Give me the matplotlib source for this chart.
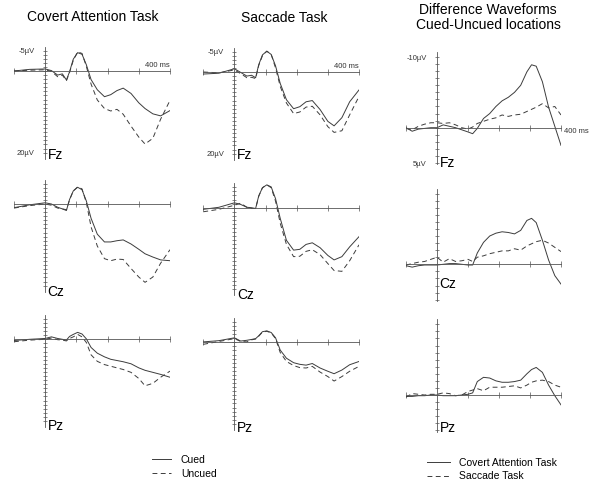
import matplotlib
matplotlib.use('Agg')
import matplotlib.pyplot as plt

plt.rcParams['font.family'] = ['Liberation Sans', 'DejaVu Sans']

# time points (ms)
t_erp = [-100, -50, 0, 20, 40, 55, 68, 78, 90, 104, 118, 132, 147, 167, 190,
         210, 230, 250, 275, 300, 320, 345, 370, 400]
t_diff = [-100, -80, -60, -40, -20, 0, 20, 40, 60, 80, 100, 115, 130, 150, 170,
          190, 210, 230, 250, 270, 290, 305, 320, 340, 360, 380, 400]

# grand average ERPs in uV (negative plotted up)
covert_fz_cued = [0, -0.4, -0.5, -0.1, 1.0, 0.7, 2.2, 0.2, -2.9, -4.5, -4.1, -1.5, 2.1, 4.6, 6.3,
                  5.8, 4.8, 4.2, 5.5, 7.8, 9.2, 10.5, 11.0, 9.7]
covert_fz_uncued = [0, -0.2, -0.3, 0.1, 1.4, 1.0, 2.4, 0.4, -2.6, -4.7, -4.3, -1.1, 3.2, 7.1, 9.2,
                    9.8, 9.4, 10.6, 13.5, 16.2, 17.9, 16.5, 11.8, 7.2]
covert_cz_cued = [0.9, 0.2, -0.3, 0.0, 0.8, 1.2, 1.6, -1.1, -3.2, -4.1, -3.5, -0.7, 3.5, 7.4, 9.3,
                  9.3, 9.0, 8.8, 9.8, 11.1, 12.2, 13.0, 13.7, 13.9]
covert_cz_uncued = [1.0, 0.4, 0.0, 0.3, 1.0, 1.2, 1.4, -1.0, -3.2, -4.2, -3.7, -0.3, 5.6, 10.3, 13.4,
                    13.9, 13.5, 13.6, 15.8, 17.9, 19.2, 17.9, 14.5, 11.2]
covert_pz_cued = [0.3, 0.0, -0.2, -0.6, -0.2, 0.0, 0.2, -0.7, -1.2, -1.7, -1.3, -0.1, 2.0, 3.4, 4.3,
                  4.9, 5.2, 5.5, 6.0, 7.0, 7.6, 8.1, 8.6, 9.3]
covert_pz_uncued = [0.6, 0.2, 0.0, -0.3, 0.1, 0.2, 0.4, -0.2, -0.6, -1.2, -0.6, 0.8, 3.8, 5.4, 6.2,
                    6.6, 7.0, 7.4, 8.1, 9.6, 11.4, 10.8, 9.3, 7.8]

sacc_fz_cued = [0.5, 0.3, -0.8, 0.1, 1.0, 0.8, 1.4, -1.8, -4.2, -5.1, -4.3, -1.5, 2.8, 6.8, 9.0,
                8.5, 7.3, 7.0, 9.2, 12.1, 13.2, 11.2, 7.3, 4.4]
sacc_fz_uncued = [0.0, 0.2, -0.5, 0.4, 1.4, 1.3, 1.6, -1.6, -4.0, -5.1, -4.3, -1.0, 3.5, 7.6, 10.2,
                  9.8, 8.6, 8.4, 10.5, 13.4, 14.8, 14.4, 10.5, 6.0]
sacc_cz_cued = [0.4, -0.1, -1.2, -0.8, -0.1, 0.0, 0.2, -2.9, -4.9, -5.6, -5.1, -2.2, 2.6, 8.0, 10.4,
                10.2, 9.0, 8.6, 9.8, 11.7, 12.8, 12.0, 9.6, 7.1]
sacc_cz_uncued = [1.0, 0.4, -0.6, -1.1, -0.1, 0.2, 0.2, -2.8, -4.9, -5.6, -4.9, -1.6, 3.8, 9.0, 12.0,
                  11.9, 10.7, 10.3, 11.5, 13.7, 15.4, 15.6, 13.0, 9.1]
sacc_pz_cued = [-0.1, -0.4, -1.1, -0.3, -0.5, -0.7, -0.9, -1.6, -2.6, -2.8, -2.4, -1.1, 1.9, 3.9, 5.0,
                5.4, 5.6, 5.2, 6.3, 7.1, 7.7, 6.8, 5.5, 4.7]
sacc_pz_uncued = [0.5, -0.2, -0.9, -0.2, -0.1, -0.6, -0.8, -1.5, -2.5, -2.7, -2.3, -0.9, 2.5, 4.7, 5.7,
                  6.2, 6.3, 5.9, 7.3, 8.4, 9.5, 8.4, 7.1, 5.9]

# difference waveforms cued - uncued (uV)
diff_fz_covert = [0, 0.5, 0.2, 0.1, 0, 0, -0.4, -0.2, 0.0, 0.3, 0.6, 0.85, 0.1, -1.3, -2.0,
                  -3.0, -3.8, -4.3, -5.0, -6.0, -7.9, -8.9, -8.7, -6.5, -2.9, -0.2, 2.5]
diff_fz_saccade = [0.1, 0.3, -0.2, -0.5, -0.7, -0.7, -0.6, -0.7, -0.4, 0.0, 0.2, -0.1, -0.6, -0.9, -1.2,
                   -1.4, -1.8, -1.6, -1.8, -1.9, -2.3, -2.6, -2.9, -3.4, -2.8, -3.0, -1.8]
diff_cz_covert = [0.2, 0.4, 0.2, 0.1, 0.1, 0.1, 0.0, -0.1, -0.1, 0.0, 0.1, 0.1, -1.6, -3.1, -4.0,
                  -4.4, -4.6, -4.5, -4.3, -4.8, -6.2, -6.5, -5.9, -3.4, -0.6, 1.6, 2.8]
diff_cz_saccade = [0.1, -0.1, -0.3, -0.4, -0.7, -1.0, -0.3, -0.8, -0.4, -0.5, -0.7, -0.4, -1.0, -1.2, -1.5,
                   -1.7, -1.9, -1.9, -2.2, -2.0, -2.6, -2.9, -3.2, -3.4, -3.0, -2.4, -1.8]
diff_pz_covert = [0.2, 0.2, 0.1, 0.1, 0.0, 0.0, 0.1, 0.1, 0.1, 0.0, -0.1, -0.3, -1.9, -2.5, -2.4,
                  -2.0, -1.8, -1.8, -1.9, -2.1, -3.0, -3.6, -3.9, -3.2, -1.4, 0.1, 1.4]
diff_pz_saccade = [0.3, -0.2, -0.1, 0.0, -0.1, -0.1, -0.3, -0.2, 0.1, 0.0, -0.5, -0.7, -0.9, -0.6, -1.1,
                   -1.1, -1.1, -1.2, -1.3, -1.0, -1.4, -1.8, -2.0, -2.1, -1.9, -1.4, -1.1]

electrodes = ['Fz', 'Cz', 'Pz']
erp_ticklabels = ['-5µV', '20µV']
diff_ticklabels = ['-10µV', '5µV']

W, H = 600, 491
LC = '#3c3c3c'
fig = plt.figure(figsize=(W / 100, H / 100), dpi=100)


def make_axes(x0, x1, base, scale, lo, hi):
    # pixel geometry -> figure rect
    top = base + lo * scale
    bot = base + hi * scale
    return fig.add_axes([x0 / W, 1 - bot / H, (x1 - x0) / W, (bot - top) / H])


def style_axes(ax, lo, hi, ticks, ticklabels):
    ax.set_xlim(-100, 400)
    ax.set_ylim(hi, lo)
    ax.patch.set_visible(False)
    for s in ['top', 'right']:
        ax.spines[s].set_visible(False)
    ax.spines['left'].set_position(('data', 0))
    ax.spines['bottom'].set_position(('data', 0))
    ax.spines['left'].set_bounds(hi, lo)
    ax.spines['bottom'].set_bounds(-100, 400)
    for s in ['left', 'bottom']:
        ax.spines[s].set_linewidth(0.6)
        ax.spines[s].set_color('#555555')
    ax.set_xticks([-100, 100, 200, 300, 400])
    ax.set_xticklabels([])
    ax.tick_params(axis='x', direction='inout', length=4, width=0.5, color='#555555')
    ax.set_yticks(ticks)
    ax.set_yticklabels(ticklabels)
    ax.set_yticks(range(ticks[0], ticks[1] + 1), minor=True)
    ax.tick_params(axis='y', which='both', direction='inout', length=3, width=0.5,
                   color='#555555', labelsize=5.5, labelcolor='#333333', pad=6)


erp_rows = [(covert_fz_cued, covert_fz_uncued, sacc_fz_cued, sacc_fz_uncued, diff_fz_covert, diff_fz_saccade),
            (covert_cz_cued, covert_cz_uncued, sacc_cz_cued, sacc_cz_uncued, diff_cz_covert, diff_cz_saccade),
            (covert_pz_cued, covert_pz_uncued, sacc_pz_cued, sacc_pz_uncued, diff_pz_covert, diff_pz_saccade)]

base_cov = [71, 204, 339.3]
base_sac = [72, 207.7, 342.3]
base_dif = [127.7, 264.3, 395]
lab_cov = [20.6, 21.6, 21.2]
lab_sac = [20.3, 21.4, 21.0]
lab_dif = [5.0, 2.8, 4.7]
e_lo, e_hi, e_s = -6, 21.5, 4.08
d_lo, d_hi, d_s = -10.7, 5.2, 7.07

handles = {}
for i, (cc, cu, sc, su, dc, ds) in enumerate(erp_rows):
    panels = [(14, 170, base_cov[i], cc, cu, lab_cov[i]),
              (203.3, 359, base_sac[i], sc, su, lab_sac[i])]
    for x0, x1, b, cued, uncued, ly in panels:
        ax = make_axes(x0, x1, b, e_s, e_lo, e_hi)
        style_axes(ax, e_lo, e_hi, [-5, 20], erp_ticklabels if i == 0 else ['', ''])
        h1, = ax.plot(t_erp, cued, color=LC, lw=0.7, label='Cued')
        h2, = ax.plot(t_erp, uncued, color=LC, lw=0.7, dashes=(5, 3.5), label='Uncued')
        handles['erp'] = [h1, h2]
        ax.text(8, ly, electrodes[i], fontsize=10, va='center', ha='left')
        if i == 0:
            ax.text(400, -0.6, '400 ms', fontsize=5.5, ha='right', va='bottom', color='#333333')

    ax = make_axes(406, 561, base_dif[i], d_s, d_lo, d_hi)
    style_axes(ax, d_lo, d_hi, [-10, 5], diff_ticklabels if i == 0 else ['', ''])
    h1, = ax.plot(t_diff, dc, color=LC, lw=0.7, label='Covert Attention Task')
    h2, = ax.plot(t_diff, ds, color=LC, lw=0.7, dashes=(5, 3.5), label='Saccade Task')
    handles['diff'] = [h1, h2]
    ax.text(8, lab_dif[i], electrodes[i], fontsize=10, va='center', ha='left', clip_on=False)
    if i == 0:
        ax.text(410, 0.55, '400 ms', fontsize=5.5, ha='left', va='center', color='#333333', clip_on=False)

fig.text(93 / W, 1 - 17 / H, 'Covert Attention Task', fontsize=10, ha='center', va='center')
fig.text(284 / W, 1 - 18 / H, 'Saccade Task', fontsize=10, ha='center', va='center')
fig.text(488 / W, 1 - 17.5 / H, 'Difference Waveforms\nCued-Uncued locations', fontsize=10,
         ha='center', va='center', linespacing=1.05)

leg_kw = dict(frameon=False, fontsize=7.5, borderpad=0, borderaxespad=0,
              labelspacing=0.35, handletextpad=0.9)
fig.legend(handles['erp'], ['Cued', 'Uncued'], loc='upper left',
           bbox_to_anchor=(151.7 / W, 1 - 455 / H), handlelength=1.9, **leg_kw)
fig.legend(handles['diff'], ['Covert Attention Task', 'Saccade Task'], loc='upper left',
           bbox_to_anchor=(426.7 / W, 1 - 457.5 / H), handlelength=2.2, **leg_kw)

fig.savefig('out.png', dpi=100)
